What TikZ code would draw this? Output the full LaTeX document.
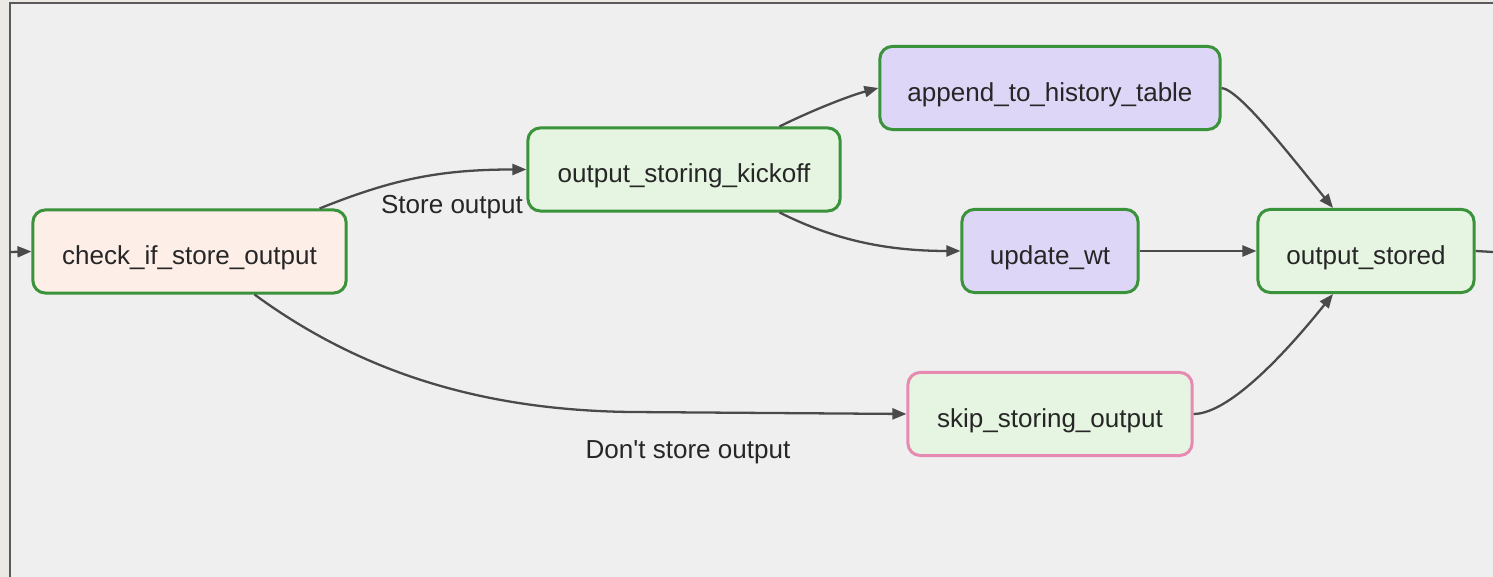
\documentclass[tikz,border=0pt]{standalone}
\usepackage{fontspec}
\setmainfont{Liberation Sans}
\usepackage{tikz}
\usetikzlibrary{arrows.meta,calc}

\definecolor{panel}{HTML}{EFEFEF}
\definecolor{outside}{HTML}{ECE9E4}
\definecolor{rim}{HTML}{5A5A5A}
\definecolor{okgreen}{HTML}{3A923A}
\definecolor{skippink}{HTML}{E68AB2}
\definecolor{edgegray}{HTML}{4A4A4A}
\definecolor{branchfill}{HTML}{FDEEE7}
\definecolor{dummyfill}{HTML}{E6F5E1}
\definecolor{pyfill}{HTML}{DDD6F6}

\begin{document}
\begin{tikzpicture}[x=0.01cm, y=-0.01cm,
    task/.style={draw=okgreen, line width=0.85pt, rounded corners=3.5pt,
        minimum height=0.83cm, inner sep=0pt, text height=1.45ex, text depth=0pt,
        font=\fontsize{7.4}{9}\selectfont, text=black!85},
    flow/.style={draw=edgegray, line width=0.65pt,
        -{Triangle[length=0.14cm, width=0.11cm]}},
    lbl/.style={font=\fontsize{7.4}{9}\selectfont, text=black!85}]
    \useasboundingbox (0,0) rectangle (1493,577);
    % panel and its frame
    \fill[outside] (0,0) rectangle (1493,577);
    \fill[panel] (10,3) rectangle (1493,577);
    \draw[rim, line width=0.7pt] (10,577) -- (10,3) -- (1493,3);

    % tasks
    \node[task, fill=branchfill, minimum width=3.13cm] (chk) at (189.5,251.5) {check\_if\_store\_output};
    \node[task, fill=dummyfill, minimum width=3.12cm] (kick) at (684,169.5) {output\_storing\_kickoff};
    \node[task, fill=pyfill, minimum width=3.4cm] (app) at (1050,88) {append\_to\_history\_table};
    \node[task, fill=pyfill, minimum width=1.76cm] (upd) at (1050,251) {update\_wt};
    \node[task, fill=dummyfill, minimum width=2.16cm] (done) at (1366,251) {output\_stored};
    \node[task, draw=skippink, fill=dummyfill, minimum width=2.84cm] (skip) at (1050,414) {skip\_storing\_output};

    \coordinate (src) at (10,252);
    \coordinate (sink) at (1493,252);
    \coordinate (bend) at (630,412);

    % edges
    \draw[flow] (src) -- (chk.west);
    \draw[flow] ($(chk.north east)+(-28,0)$) .. controls +(70,-28) and +(-90,0) .. (kick.west);
    \draw[flow] ($(chk.south)+(65,0)$) .. controls +(105,77) and +(-150,-2) .. (bend) -- (skip.west);
    \draw[flow] ($(kick.north east)+(-62,0)$) .. controls +(30,-15) and +(-30,8) .. (app.west);
    \draw[flow] ($(kick.south east)+(-62,0)$) .. controls +(50,25) and +(-80,0) .. (upd.west);
    \draw[flow] (app.east) .. controls +(18,2) and +(-45,-55) .. ($(done.north)+(-33,0)$);
    \draw[flow] (upd.east) -- (done.west);
    \draw[flow] (skip.east) .. controls +(38,0) and +(-40,50) .. ($(done.south)+(-33,0)$);
    \draw[draw=edgegray, line width=0.65pt] (done.east) -- (sink);

    % branch labels
    \node[lbl] (yes) at (452,207) {Store output};
    \node[lbl] (no) at (688,452) {Don\textquotesingle t store output};
\end{tikzpicture}
\end{document}
